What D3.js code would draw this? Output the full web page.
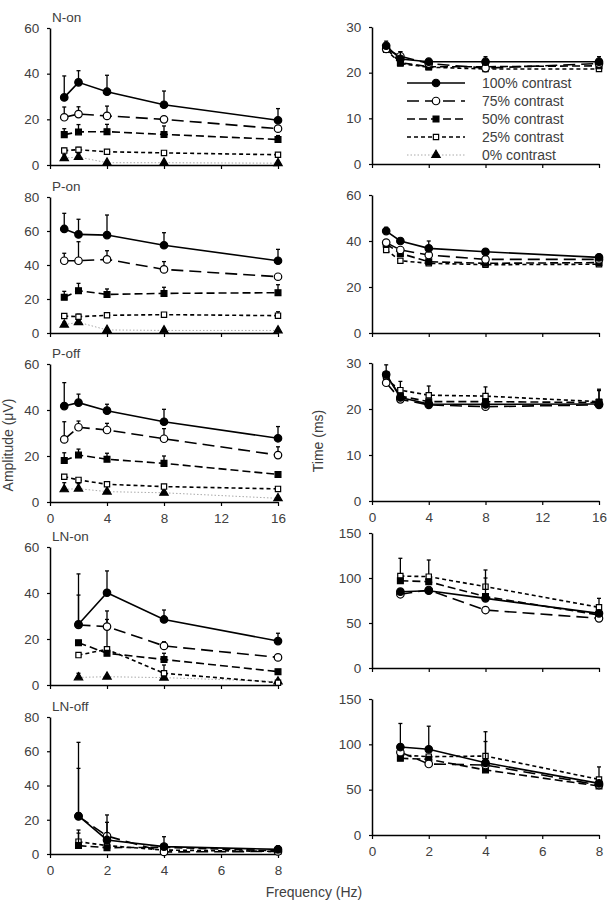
<!DOCTYPE html>
<html>
<head>
<meta charset="utf-8">
<script src="https://cdn.jsdelivr.net/npm/d3@7"></script>
<style>
  body { margin: 0; background: #fff; }
  text { font-family: "Liberation Sans", Arial, sans-serif; fill: #404040; }
</style>
</head>
<body>
<div id="chart"></div>
<script>
const width = 616, height = 905;

// contrast series
const contrasts = ["100% contrast", "75% contrast", "50% contrast", "25% contrast", "0% contrast"];
const freq16 = [1, 2, 4, 8, 16];
const freq8 = [1, 2, 4, 8];

// amplitude (uV), rows = 100, 75, 50, 25, 0 % contrast
const nOnAmp = [[29.6, 36.2, 32.1, 26.4, 19.6], [20.9, 22.3, 21.5, 20, 15.9], [13.3, 14.5, 14.6, 13.4, 11.2], [6.3, 6.7, 5.8, 5.3, 4.5], [3, 3.5, 1, 1, 0.8]];
const nOnAmpErr = [[9.4, 5.1, 7.2, 6, 5.1], [4.5, 3.2, 4.3, 0, 0], [2.6, 3.2, 3.2, 3.7, 1.7], [1, 1, 0, 0, 0], [1.5, 1.5, 0, 0, 0]];
const pOnAmp = [[61.2, 58, 57.6, 51.6, 42.5], [42.5, 42.5, 43.3, 37.4, 33.1], [21, 24.9, 22.7, 23.3, 23.7], [10, 9.6, 10.4, 10.8, 10.2], [4.9, 6.3, 1.8, 1.5, 1.5]];
const pOnAmpErr = [[9.2, 8.9, 11.8, 7.4, 6.7], [4.4, 11.2, 5.1, 4.6, 0], [3.5, 4.3, 3.2, 3.6, 4.7], [0, 1.5, 0, 0, 2.3], [1.5, 1.5, 0, 0, 0]];
const pOffAmp = [[41.7, 43.2, 39.7, 34.9, 27.7], [27.2, 32.5, 31.3, 27.5, 20.4], [18, 20.4, 18.6, 16.8, 12], [11, 9.6, 7.7, 6.7, 5.7], [5.5, 5.8, 4.5, 4, 1.6]];
const pOffAmpErr = [[10.2, 3.7, 2.8, 5.4, 5.1], [7.7, 2.7, 2.9, 4.4, 3.6], [3.4, 2.6, 2.6, 3.2, 0], [0, 0, 0, 0, 0], [2.9, 2.2, 0, 0, 0]];
const lnOnAmp = [[26.4, 40.1, 28.5, 19.1], [26.1, 25.4, 17, 12], [18.4, 13.8, 11.1, 5.8], [13, 15.5, 5.1, 1], [3.3, 3.6, 3.2, 1.5]];
const lnOnAmpErr = [[21.9, 9.5, 4.1, 3.4], [13, 6.8, 1.8, 0], [0, 0, 2.7, 0], [0, 13, 3.6, 0], [1.8, 0, 0, 0]];
const lnOffAmp = [[22.2, 8.2, 4.3, 2.7], [22, 10.5, 1.2, 1.5], [4.9, 3.7, 3.9, 1.8], [7.2, 4.9, 2.3, 1.5], []];
const lnOffAmpErr = [[43, 14.6, 5.8, 2.1], [28, 8, 0, 0], [9.1, 0, 0, 0], [5, 0, 0, 0], []];

// latency (ms), rows = 100, 75, 50, 25 % contrast
const nOnLat = [[25.9, 23, 22.4, 22.4, 22.4], [25.2, 23.6, 22, 21, 22], [25.3, 22.2, 21.3, 21.3, 21.5], [25, 22, 21.2, 20.8, 20.8]];
const nOnLatErr = [[1, 1.6, 0, 1.1, 1.1], [0, 1, 0, 0, 0], [0, 0, 0, 0, 0], [0, 0, 0, 0, 0]];
const pOnLat = [[44.3, 40, 36.8, 35.3, 32.9], [39.3, 36.1, 33.9, 32, 32], [38.7, 34.6, 31, 30.3, 30.6], [36.1, 31.4, 30.3, 29.7, 29.9]];
const pOnLatErr = [[1.7, 0, 3.2, 0, 1.3], [0, 0, 0, 0, 0], [0, 0, 0, 0, 0], [0, 0, 0, 0, 0]];
const pOffLat = [[27.5, 22.5, 21.1, 21, 21.1], [25.7, 22.1, 20.9, 20.5, 20.9], [27.4, 22.8, 21.6, 21.6, 21.4], [26.5, 24.1, 23, 22.8, 21.6]];
const pOffLatErr = [[2.1, 0, 0, 0, 0], [0, 0, 0, 0, 0], [0, 0, 0, 0, 2.6], [0, 1.9, 2, 2, 2.7]];
const lnOnLat = [[84.8, 85.9, 77.4, 60.7], [81.9, 86.7, 64.4, 55.2], [97, 95.9, 79.3, 58.9], [102.2, 101.5, 90.4, 67.4]];
const lnOnLatErr = [[0, 0, 0, 0], [0, 0, 0, 0], [0, 0, 20.7, 0], [19.7, 18.5, 18.5, 10]];
const lnOffLat = [[97, 94.5, 79.6, 56.9], [91.3, 78.3, 77.2, 55.1], [84.6, 83.5, 71.7, 54], [88.2, 86.4, 87.1, 61.3]];
const lnOffLatErr = [[26, 25.5, 34.3, 0], [0, 0, 0, 0], [0, 0, 0, 0], [0, 0, 16, 13.8]];

const xTicks16 = [0, 4, 8, 12, 16];
const xTicks8 = [0, 2, 4, 6, 8];

// series styling
const dashes = [null, "12,6", "8,4", "4,3", "1.5,2"];
const lineColor = ["#000", "#000", "#000", "#000", "#aaa"];
const markers = [
  { shape: d3.symbolCircle, size: 44, fill: "#000" },
  { shape: d3.symbolCircle, size: 44, fill: "#fff" },
  { shape: d3.symbolSquare, size: 34, fill: "#000" },
  { shape: d3.symbolSquare, size: 28, fill: "#fff" },
  { shape: d3.symbolTriangle, size: 30, fill: "#000" }
];

const svg = d3.select("#chart").append("svg")
  .attr("width", width).attr("height", height)
  .attr("viewBox", [0, 0, width, height]);

const panels = [
  { title: "N-on", data: nOnAmp, err: nOnAmpErr, freq: freq16, xt: xTicks16, yMax: 60, yStep: 20, x0: 50, x1: 278, y0: 165, y1: 28, labels: false },
  { title: "P-on", data: pOnAmp, err: pOnAmpErr, freq: freq16, xt: xTicks16, yMax: 80, yStep: 20, x0: 50, x1: 278, y0: 333, y1: 197, labels: false },
  { title: "P-off", data: pOffAmp, err: pOffAmpErr, freq: freq16, xt: xTicks16, yMax: 60, yStep: 20, x0: 50, x1: 278, y0: 502, y1: 364, labels: true },
  { title: "LN-on", data: lnOnAmp, err: lnOnAmpErr, freq: freq8, xt: xTicks8, yMax: 60, yStep: 20, x0: 50, x1: 278, y0: 685, y1: 547, labels: false },
  { title: "LN-off", data: lnOffAmp, err: lnOffAmpErr, freq: freq8, xt: xTicks8, yMax: 80, yStep: 20, x0: 50, x1: 278, y0: 854, y1: 717, labels: true },
  { title: "", data: nOnLat, err: nOnLatErr, freq: freq16, xt: xTicks16, yMax: 30, yStep: 10, x0: 372, x1: 599, y0: 164, y1: 27, labels: false, legend: true },
  { title: "", data: pOnLat, err: pOnLatErr, freq: freq16, xt: xTicks16, yMax: 60, yStep: 20, x0: 372, x1: 599, y0: 333, y1: 195, labels: false },
  { title: "", data: pOffLat, err: pOffLatErr, freq: freq16, xt: xTicks16, yMax: 30, yStep: 10, x0: 372, x1: 599, y0: 501, y1: 363, labels: true },
  { title: "", data: lnOnLat, err: lnOnLatErr, freq: freq8, xt: xTicks8, yMax: 150, yStep: 50, x0: 372, x1: 599, y0: 668, y1: 533, labels: false },
  { title: "", data: lnOffLat, err: lnOffLatErr, freq: freq8, xt: xTicks8, yMax: 150, yStep: 50, x0: 372, x1: 599, y0: 835, y1: 699, labels: true }
];

function drawPanel(p) {
  const g = svg.append("g");
  const x = d3.scaleLinear().domain([0, p.xt[p.xt.length - 1]]).range([p.x0, p.x1]);
  const y = d3.scaleLinear().domain([0, p.yMax]).range([p.y0, p.y1]);

  // axes
  const xAxis = d3.axisBottom(x).tickValues(p.xt).tickSize(4).tickSizeOuter(0)
    .tickFormat(p.labels ? d3.format("d") : "");
  const gx = g.append("g").attr("transform", `translate(0,${p.y0})`).call(xAxis);
  const yAxis = d3.axisLeft(y).tickValues(d3.range(0, p.yMax + 1, p.yStep)).tickSize(3).tickSizeOuter(0);
  const gy = g.append("g").attr("transform", `translate(${p.x0},0)`).call(yAxis);
  [gx, gy].forEach(a => {
    a.select(".domain").attr("stroke", "#000").attr("stroke-width", 1.5);
    a.selectAll(".tick line").attr("stroke", "#000").attr("stroke-width", 1.2);
    a.selectAll(".tick text").style("font-size", "13.5px").attr("fill", "#444");
  });
  gx.selectAll(".tick text").attr("dy", "1.05em");
  gy.selectAll(".tick text").attr("dx", "-0.35em");

  if (p.title) {
    g.append("text").attr("x", p.x0 + 2).attr("y", p.y1 - 6)
      .style("font-size", "13.5px").text(p.title);
  }

  const line = d3.line().x(d => x(d[0])).y(d => y(d[1]));

  // draw from lowest contrast up so 100% sits on top
  for (let s = p.data.length - 1; s >= 0; s--) {
    const vals = p.data[s];
    if (!vals.length) continue;
    const pts = vals.map((v, i) => [p.freq[i], v]);
    const errs = p.err[s];

    // error bars (upper only)
    pts.forEach((d, i) => {
      const e = errs[i];
      if (!e) return;
      g.append("line").attr("x1", x(d[0])).attr("x2", x(d[0]))
        .attr("y1", y(d[1])).attr("y2", y(d[1] + e))
        .attr("stroke", "#000").attr("stroke-width", 1.3);
      g.append("line").attr("x1", x(d[0]) - 2).attr("x2", x(d[0]) + 2)
        .attr("y1", y(d[1] + e)).attr("y2", y(d[1] + e))
        .attr("stroke", "#000").attr("stroke-width", 1.3);
    });

    g.append("path").datum(pts)
      .attr("fill", "none")
      .attr("stroke", lineColor[s])
      .attr("stroke-width", s === 4 ? 1 : 1.6)
      .attr("stroke-dasharray", dashes[s])
      .attr("d", line);

    const m = markers[s];
    g.selectAll(null).data(pts).join("path")
      .attr("transform", d => `translate(${x(d[0])},${y(d[1])})`)
      .attr("d", d3.symbol(m.shape, m.size))
      .attr("fill", m.fill)
      .attr("stroke", "#000")
      .attr("stroke-width", 1.2);
  }

  if (p.legend) drawLegend(g);
}

function drawLegend(g) {
  const lx0 = 407, lx1 = 465, tx = 482;
  contrasts.forEach((c, i) => {
    const yy = 83 + i * 18;
    g.append("line").attr("x1", lx0).attr("x2", lx1).attr("y1", yy).attr("y2", yy)
      .attr("stroke", lineColor[i])
      .attr("stroke-width", i === 4 ? 1 : 1.6)
      .attr("stroke-dasharray", dashes[i]);
    const m = markers[i];
    g.append("path").attr("transform", `translate(${(lx0 + lx1) / 2},${yy})`)
      .attr("d", d3.symbol(m.shape, m.size))
      .attr("fill", m.fill).attr("stroke", "#000").attr("stroke-width", 1.2);
    g.append("text").attr("x", tx).attr("y", yy + 5)
      .style("font-size", "14px").text(c);
  });
}

panels.forEach(drawPanel);

// axis titles
svg.append("text")
  .attr("transform", "translate(13,445) rotate(-90)")
  .attr("text-anchor", "middle").style("font-size", "14px")
  .text("Amplitude (μV)");
svg.append("text")
  .attr("transform", "translate(323,441) rotate(-90)")
  .attr("text-anchor", "middle").style("font-size", "14px")
  .text("Time (ms)");
svg.append("text")
  .attr("x", 314).attr("y", 897)
  .attr("text-anchor", "middle").style("font-size", "14px")
  .text("Frequency (Hz)");
</script>
</body>
</html>
